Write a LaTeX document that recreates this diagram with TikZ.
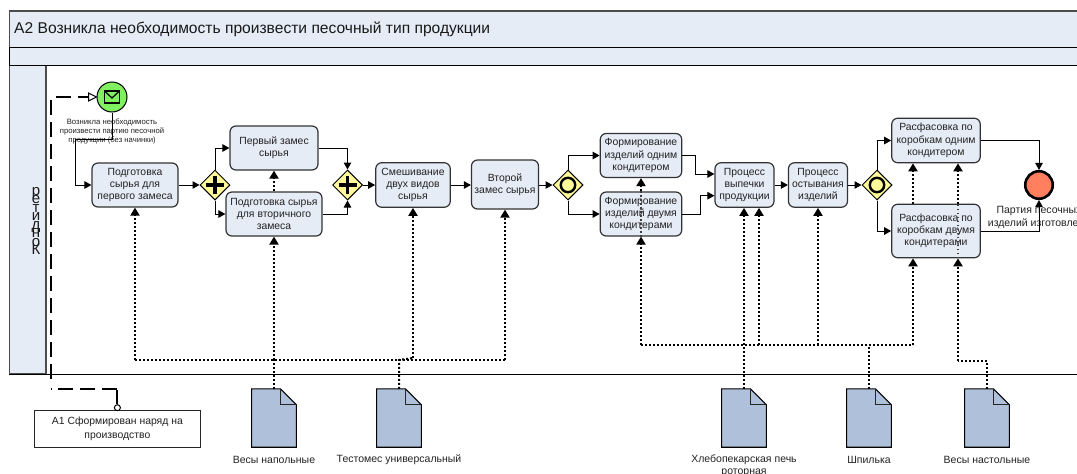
\documentclass[tikz,border=0pt]{standalone}
\usepackage{fontspec}
\setmainfont{Liberation Sans}
\usetikzlibrary{arrows.meta,shapes.geometric,calc}
\definecolor{panel}{HTML}{E6ECF6}
\definecolor{docfill}{HTML}{AFC1DA}
\definecolor{gatefill}{HTML}{FFF99A}
\definecolor{startfill}{HTML}{80F060}
\definecolor{endfill}{HTML}{FF7F5F}
\definecolor{ink}{HTML}{222222}
\newcommand{\tightlines}{\lineskiplimit=-30pt\relax}
\tikzset{
  fs/.style n args={2}{font=\fontsize{#1}{#2}\selectfont},
  task/.style={draw=black!80,line width=1.2pt,fill=panel,rounded corners=6pt,inner sep=0pt,align=center,text=ink,fs={10.4}{12.2}},
  gate/.style={diamond,draw=black,line width=1pt,fill=gatefill,minimum width=30pt,minimum height=30pt,inner sep=0pt},
  flow/.style={draw=black,line width=1pt,-{Triangle[length=7pt,width=7.5pt]}},
  assoc/.style={draw=black,line width=2pt,dash pattern=on 2pt off 2pt},
  assoctip/.style={assoc,-{Triangle[length=8pt,width=9pt]}},
  thindots/.style={draw=black!75,line width=1.1pt,dash pattern=on 1.5pt off 2.5pt},
  msg/.style={draw=black,line width=2pt,dash pattern=on 15pt off 7pt},
  msgseg/.style={draw=black,line width=2pt},
  docbase/.style={minimum width=44.4pt,minimum height=58pt,inner sep=0pt},
  doclabel/.style={inner sep=0pt,align=center,text=ink,fs={10.5}{12}},
  evlabel/.style={inner sep=0pt,align=center,text=ink},
}
\newcommand{\plusmark}[1]{\draw[line width=3.4pt] ($(#1.center)+(-9,0)$) -- ($(#1.center)+(9,0)$) ($(#1.center)+(0,-9)$) -- ($(#1.center)+(0,9)$);}
\newcommand{\ringmark}[1]{\draw[line width=2.4pt] (#1.center) circle[radius=7.2pt];}
\newcommand{\docmark}[1]{%
  \draw[fill=docfill,line width=1.1pt,line join=miter] (#1.north west) -- ($(#1.north east)+(-16,0)$) -- ($(#1.north east)+(0,16)$) -- (#1.south east) -- (#1.south west) -- cycle;
  \draw[line width=1.1pt,draw=black!85] ($(#1.north east)+(-16,0)$) -- ($(#1.north east)+(-16,16)$) -- ($(#1.north east)+(0,16)$);}
\begin{document}
\begin{tikzpicture}[x=1pt,y=-1pt]
\useasboundingbox (0,0) rectangle (1077,474);
\clip (0,0) rectangle (1077,474);
% pool frames
\draw[fill=panel,draw=black!70,line width=1.1pt] (9.5,11) rectangle (1090,47.5);
\draw[fill=panel,draw=black,line width=1pt] (9.5,47.5) rectangle (1090,65.5);
\draw[fill=panel,draw=black!70,line width=1.1pt] (9.5,65.5) rectangle (46,374);
\draw[draw=black,line width=1pt] (9,65.5) -- (1077,65.5);
\draw[draw=black,line width=1pt] (9,374) -- (1077,374);
\node[anchor=west,inner sep=0pt,text=black!90,fs={15.6}{18}] (title) at (14,29.5) {А2 Возникла необходимость произвести песочный тип продукции};
\node[inner sep=0pt,align=center,text=black!90,font=\fontsize{15}{8.5}\selectfont\tightlines] (lane) at (36,221) {р\\е\\т\\и\\д\\н\\о\\К};

% nodes
\node[circle,draw=black,line width=1pt,fill=startfill,minimum size=30pt,inner sep=0pt] (s) at (112,97) {};
\node[evlabel,fs={7.7}{9.2}] (slabel) at (112,131.5) {Возникла необходимость\\произвести партию песочной\\продукции (без начинки)};
\node[task,minimum width=86pt,minimum height=44pt] (t1) at (135,185) {Подготовка\\сырья для\\первого замеса};
\node[gate] (g1) at (215,185) {};
\node[task,minimum width=88pt,minimum height=44pt] (t2) at (274,148) {Первый замес\\сырья};
\node[task,minimum width=96pt,minimum height=44pt] (t3) at (274,214) {Подготовка сырья\\для вторичного\\замеса};
\node[gate] (g2) at (347.5,185) {};
\node[task,minimum width=74.5pt,minimum height=44.5pt] (t4) at (413,185) {Смешивание\\двух видов\\сырья};
\node[task,minimum width=67pt,minimum height=49pt] (t5) at (505,184.5) {Второй\\замес сырья};
\node[gate] (g3) at (568,185) {};
\node[task,minimum width=81.5pt,minimum height=44pt] (t6) at (641,155.5) {Формирование\\изделий одним\\кондитером};
\node[task,minimum width=81.5pt,minimum height=44pt] (t7) at (641,214) {Формирование\\изделий двумя\\кондитерами};
\node[task,minimum width=59pt,minimum height=44.5pt] (t8) at (744.5,185) {Процесс\\выпечки\\продукции};
\node[task,minimum width=59pt,minimum height=44.5pt] (t9) at (818,185) {Процесс\\остывания\\изделий};
\node[gate] (g4) at (877,185) {};
\node[task,minimum width=88.5pt,minimum height=44.5pt] (t10) at (936,140.5) {Расфасовка по\\коробкам одним\\кондитером};
\node[task,minimum width=88.5pt,minimum height=53.5pt] (t11) at (936,231) {Расфасовка по\\коробкам двумя\\кондитерами};
\node[circle,draw=black,line width=2.6pt,fill=endfill,minimum size=27.5pt,inner sep=0pt] (e) at (1039,185) {};
\node[evlabel,fs={10.5}{13}] (elabel) at (1039,217) {Партия песочных\\изделий изготовлено};

\node[draw=black!85,line width=1.1pt,fill=white,minimum width=166pt,minimum height=36.6pt,inner sep=0pt,align=center,text=ink,fs={10.4}{13.4}] (a1) at (117.4,429) {А1 Сформирован наряд на\\производство};
\node[circle,draw=black,line width=1pt,fill=white,minimum size=6pt,inner sep=0pt] (m) at (117.4,407.7) {};

\node[docbase] (d1) at (274,418) {};
\node[docbase] (d2) at (399,418) {};
\node[docbase] (d3) at (744,418) {};
\node[docbase] (d4) at (869,418) {};
\node[docbase] (d5) at (987,418) {};
\docmark{d1}\docmark{d2}\docmark{d3}\docmark{d4}\docmark{d5}
\node[doclabel] (l1) at (274,459.5) {Весы напольные};
\node[doclabel] (l2) at (399,459.5) {Тестомес универсальный};
\node[doclabel,anchor=north] (l3) at (744,454.5) {Хлебопекарская печь\\роторная};
\node[doclabel] (l4) at (869,459.5) {Шпилька};
\node[doclabel] (l5) at (987,459.5) {Весы настольные};

% junctions
\coordinate (ja) at (135,360);
\coordinate (jb) at (505,360);
\coordinate (jc) at (274,360);
\coordinate (jd) at (399,360);
\coordinate (je) at (413,358);
\coordinate (jf) at (641,345);
\coordinate (jg) at (913,345);
\coordinate (jh) at (744,345);
\coordinate (ji) at (759,345);
\coordinate (jj) at (818,345);
\coordinate (jk) at (869,345);
\coordinate (jl) at (987,361);
\coordinate (jm) at (958,361);

% associations
\draw[assoc] (ja) -- (jb);
\draw[assoc] (jf) -- (jg);
\draw[assoc] (d1.north) -- (jc);
\draw[assoctip] (jc) -- (jc |- t3.south);
\draw[assoctip] (t3.north) -- (t2.south);
\draw[assoctip] (ja) -- (ja |- t1.south);
\draw[assoctip] (jb) -- (jb |- t5.south);
\draw[assoc] (d2.north) -- (jd) -- (je);
\draw[assoctip] (je) -- (je |- t4.south);
\draw[assoctip] (jf) -- (jf |- t7.south);
\draw[assoctip] (t7.north) -- (t6.south);
\draw[assoc] (d3.north) -- (jh);
\draw[assoctip] (jh) -- (jh |- t8.south);
\draw[assoctip] (ji) -- (ji |- t8.south);
\draw[assoctip] (jj) -- (jj |- t9.south);
\draw[assoc,line width=2.6pt] (d4.north) -- (jk);
\draw[assoctip] (jg) -- (jg |- t11.south);
\draw[assoctip] (t11.north -| jg) -- (jg |- t10.south);
\draw[assoc] (d5.north) -- (jl) -- (jm);
\draw[assoctip] (jm) -- (jm |- t11.south);
\draw[assoctip] (jm |- t11.north) -- (jm |- t10.south);

% flows
\coordinate (c0) at (75.5,139.5);
\draw[flow] (s.south) |- (c0) |- (t1.west);
\draw[flow] (t1.east) -- (g1.west);
\draw[flow] (g1.north) |- (t2.west);
\draw[flow] (g1.south) |- (t3.west);
\draw[flow] (t2.east) -| (g2.north);
\draw[flow] (t3.east) -| (g2.south);
\draw[flow] (g2.east) -- (t4.west);
\draw[flow] (t4.east) -- (t5.west |- t4.east);
\draw[flow] (t5.east |- g3.west) -- (g3.west);
\draw[flow] (g3.north) |- (t6.west);
\draw[flow] (g3.south) |- (t7.west);
\coordinate (c1) at (695.7,174);
\coordinate (c2) at (700.7,195.7);
\draw[flow] (t6.east) -| (c1) -- (t8.west |- c1);
\draw[flow] (t7.east) -| (c2) -- (t8.west |- c2);
\draw[flow] (t8.east) -- (t9.west);
\draw[flow] (t9.east) -- (g4.west);
\draw[flow] (g4.north) |- (t10.west);
\draw[flow] (g4.south) |- (t11.west);
\draw[flow] (t10.east) -| (e.north);
\draw[flow] (t11.east) -| (e.south);

% message flow
\coordinate (c3) at (51.3,389);
\coordinate (c5) at (56,97);
\draw[msgseg] (m.north) -- ++(0,-14);
\draw[msg] (m.north |- c3) -- (c3);
\foreach \yy in {100,122,144,166,188,210,232,254,276,298,320,342,364}
  \draw[msgseg] (51.3,\yy) -- ++(0,15);
\draw[msg] (c5) -- ($(s.west)+(-8,0)$);
\draw[draw=black,line width=1pt,fill=white,-] ($(s.west)+(-8,-4)$) -- (s.west) -- ($(s.west)+(-8,4)$) -- cycle;

% markers
\plusmark{g1}\plusmark{g2}\ringmark{g3}\ringmark{g4}
\draw[line width=1.2pt,fill=startfill,line join=miter] ($(s.center)+(-7.5,-6)$) rectangle ($(s.center)+(7.5,6)$);
\draw[line width=1.2pt] ($(s.center)+(-7.5,-6)$) -- ($(s.center)+(0,1)$) -- ($(s.center)+(7.5,-6)$);

% dotted lines seen through shapes
\draw[thindots] (jf |- t7.south) -- (jf |- t7.north);
\draw[thindots] (jm |- t11.south) -- (jm |- t11.north);
\end{tikzpicture}
\end{document}
